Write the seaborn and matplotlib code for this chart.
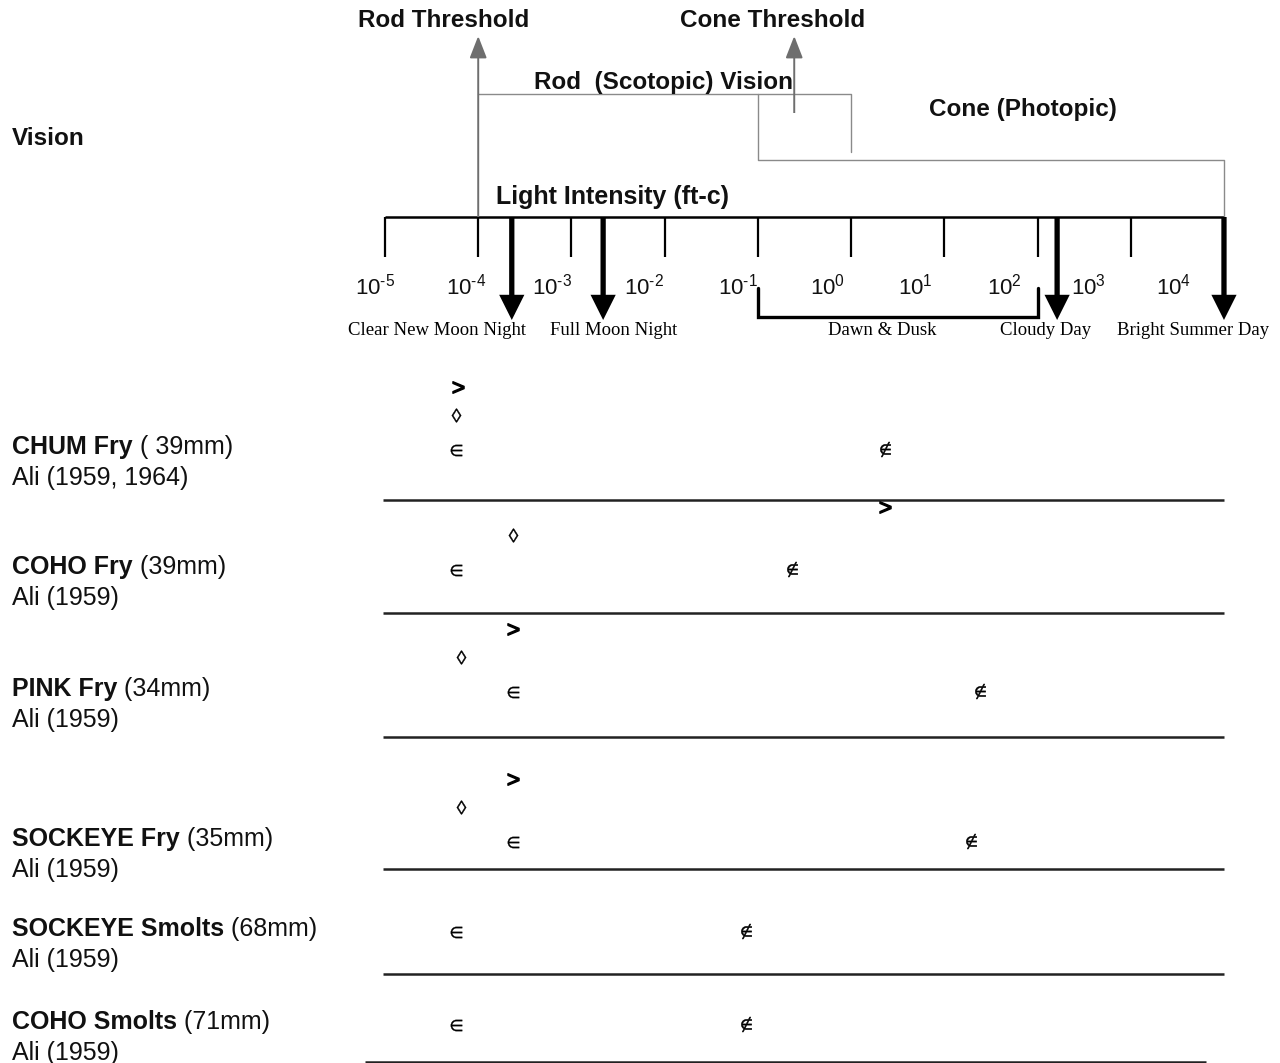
import numpy as np
import pandas as pd
import matplotlib
matplotlib.use("Agg")
import matplotlib.pyplot as plt
import seaborn as sns

# ---------------- data ----------------
decades = [-5, -4, -3, -2, -1, 0, 1, 2, 3, 4]
tick_labels = ["$10^{\u2010" + "5}$", "$10^{\u2010" + "4}$", "$10^{\u2010" + "3}$",
               "$10^{\u2010" + "2}$", "$10^{\u2010" + "1}$",
               r"$10^{0}$", r"$10^{1}$", r"$10^{2}$", r"$10^{3}$", r"$10^{4}$"]

conditions = ["Clear New Moon Night", "Full Moon Night", "Cloudy Day", "Bright Summer Day"]
condition_log = [-3.64, -2.66, 2.21, 4.0]
dawn_dusk = [-1, 2]

rod_threshold = -4
cone_threshold = -0.61
rod_range = [-4, 0]
cone_range = [-1, 4]

species_bold = ["CHUM Fry", "COHO Fry", "PINK Fry", "SOCKEYE Fry",
                "SOCKEYE Smolts", "COHO Smolts"]
species_size = [" ( 39mm)", " (39mm)", " (34mm)", " (35mm)", " (68mm)", " (71mm)"]
species_ref = ["Ali (1959, 1964)", "Ali (1959)", "Ali (1959)", "Ali (1959)",
               "Ali (1959)", "Ali (1959)"]

# symbol values per species, log10 light intensity (ft-c)
sym_in = [-4.24, -4.24, -3.63, -3.63, -4.24, -4.24]        # ∈
sym_notin = [0.36, -0.63, 1.38, 1.29, -1.13, -1.13]       # ∉
sym_lozenge = [-4.24, -3.63, -4.19, -4.19, np.nan, np.nan]  # ◊
sym_caret = [-4.22, 0.36, -3.63, -3.63, np.nan, np.nan]     # >

# ---------------- layout ----------------
W, H = 1280, 1063
X0_PX, DEC_PX = 385, 93.22          # pixel of 10^-5 and pixels per decade


def px(p):
    return -5 + (p - X0_PX) / DEC_PX


row_y = [450, 570, 692, 842, 932, 1025]
sep_y = [500, 613, 737, 869, 974, 1062]
sep_x = [(383, 1224)] * 5 + [(365, 1206)]
kind_dy = {"in": 0, "notin": -1, "lozenge": -35, "caret": -63}
kind_marker = {"in": r"$\in$", "notin": r"$\notin$", "lozenge": "$\u25CA$", "caret": r"$>$"}
kind_size = {"in": 68, "notin": 115, "lozenge": 95, "caret": 70}
kind_lw = {"in": 0.2, "notin": 0.4, "lozenge": 0.3, "caret": 1.0}

tick_label_px = [375, 466, 552, 644, 738, 828, 915, 1004, 1088, 1174]
condition_label_px = [437, 614, 1046, 1193]

sns.set_theme(style="white")
plt.rcParams["font.family"] = ["Liberation Sans", "DejaVu Sans"]
plt.rcParams["mathtext.fontset"] = "custom"
plt.rcParams["mathtext.rm"] = "Liberation Sans"
plt.rcParams["mathtext.it"] = "Liberation Sans:italic"
plt.rcParams["mathtext.bf"] = "Liberation Sans:bold"
plt.rcParams["mathtext.fallback"] = "stix"

fig = plt.figure(figsize=(W / 100, H / 100), dpi=100)
ax = fig.add_axes([0, 0, 1, 1])
ax.set_xlim(px(0), px(W))
ax.set_ylim(H, 0)
ax.axis("off")

GRAY = "#8a8a8a"
AX_Y, TICK_END = 217, 257

# ---- light intensity axis ----
ax.plot([decades[0], decades[-1]], [AX_Y, AX_Y], color="black", lw=1.8, solid_capstyle="butt")
ax.vlines(decades, AX_Y, TICK_END, color="black", lw=1.6)
for lab, xp in zip(tick_labels, tick_label_px):
    ax.text(px(xp), 294, lab, ha="center", va="baseline", fontsize=16, color="#111111")
ax.text(px(612), 204, "Light Intensity (ft-c)", ha="center", va="baseline",
        fontsize=18, fontweight="bold", color="#111111")

# ---- light condition arrows ----
for c, v, xp in zip(conditions, condition_log, condition_label_px):
    ax.annotate("", xy=(v, 320), xytext=(v, AX_Y),
                arrowprops=dict(arrowstyle="-|>,head_length=0.6,head_width=0.3",
                                color="black", lw=3.8, mutation_scale=20,
                                shrinkA=0, shrinkB=0, capstyle="butt",
                                joinstyle="miter"))
    ax.text(px(xp), 335, c, ha="center", va="baseline", fontsize=13.5,
            family="Liberation Serif", color="black")

# dawn & dusk bracket
ax.plot([dawn_dusk[0], dawn_dusk[0], dawn_dusk[1], dawn_dusk[1]],
        [288, 317, 317, 288], color="black", lw=2.4, solid_joinstyle="miter")
ax.text(px(882), 335, "Dawn & Dusk", ha="center", va="baseline", fontsize=13.5,
        family="Liberation Serif", color="black")

# ---- vision structure ----
ax.plot([rod_range[0], rod_range[1], rod_range[1]], [94, 94, 152], color=GRAY, lw=1.0)
ax.plot([cone_range[0], cone_range[0], cone_range[1], cone_range[1]],
        [94, 160, 160, AX_Y], color=GRAY, lw=1.0)
for xv, y0 in ((rod_threshold, AX_Y), (cone_threshold, 113)):
    ax.annotate("", xy=(xv, 36), xytext=(xv, y0),
                arrowprops=dict(arrowstyle="-|>,head_length=0.9,head_width=0.35",
                                color="#6e6e6e", lw=1.4, mutation_scale=15,
                                shrinkA=0, shrinkB=0, capstyle="butt"))
ax.text(px(444), 27, "Rod Threshold", ha="center", va="baseline", fontsize=17.5,
        fontweight="bold", color="#111111")
ax.text(px(773), 27, "Cone Threshold", ha="center", va="baseline", fontsize=17.5,
        fontweight="bold", color="#111111")
ax.text(px(664), 89, "Rod  (Scotopic) Vision", ha="center", va="baseline", fontsize=17.5,
        fontweight="bold", color="#111111")
ax.text(px(1023), 116, "Cone (Photopic)", ha="center", va="baseline", fontsize=17.5,
        fontweight="bold", color="#111111")
ax.text(px(12), 145, "Vision", ha="left", va="baseline", fontsize=17.5,
        fontweight="bold", color="#111111")

# ---- species rows ----
for (x0, x1), y in zip(sep_x, sep_y):
    ax.plot([px(x0), px(x1)], [y, y], color="#222222", lw=1.8, solid_capstyle="butt")

records = []
for i, sp in enumerate(species_bold):
    for kind, vals in (("in", sym_in), ("notin", sym_notin),
                       ("lozenge", sym_lozenge), ("caret", sym_caret)):
        v = vals[i]
        if not np.isnan(v):
            records.append({"species": sp, "kind": kind, "log_ftc": v,
                            "y": row_y[i] + kind_dy[kind]})
df = pd.DataFrame(records)

for kind in ["in", "notin", "lozenge", "caret"]:
    sub = df[df["kind"] == kind]
    sns.scatterplot(data=sub, x="log_ftc", y="y", marker=kind_marker[kind],
                    s=kind_size[kind], color="black", edgecolor="black",
                    linewidth=kind_lw[kind], ax=ax, legend=False, zorder=5)
ax.set_xlim(px(0), px(W))
ax.set_ylim(H, 0)
ax.axis("off")

bold_texts = []
for i, sp in enumerate(species_bold):
    t = ax.text(px(12), row_y[i] + 4, sp, ha="left", va="baseline", fontsize=18,
                fontweight="bold", color="#111111")
    bold_texts.append(t)
    ax.text(px(12), row_y[i] + 35, species_ref[i], ha="left", va="baseline",
            fontsize=18, color="#111111")

fig.canvas.draw()
renderer = fig.canvas.get_renderer()
inv = ax.transData.inverted()
for i, t in enumerate(bold_texts):
    ext = t.get_window_extent(renderer=renderer)
    xd = inv.transform((ext.x1, 0))[0]
    ax.text(xd, row_y[i] + 4, species_size[i], ha="left", va="baseline", fontsize=18,
            color="#111111")

fig.savefig("out.png", dpi=100)
